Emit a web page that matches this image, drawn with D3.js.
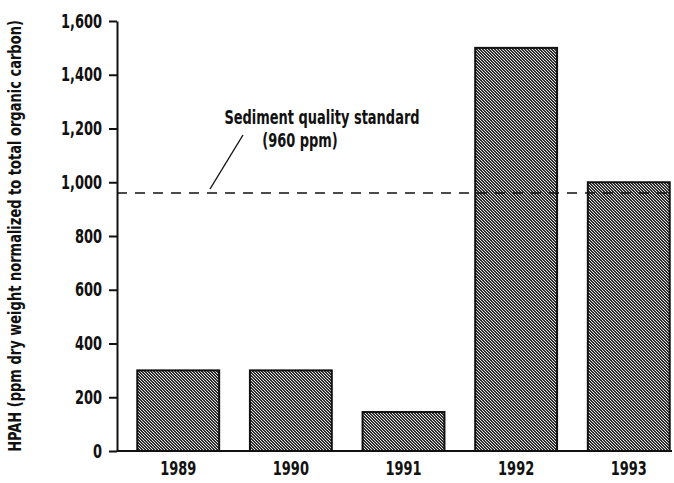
<!DOCTYPE html>
<html>
<head>
<meta charset="utf-8">
<script src="https://cdn.jsdelivr.net/npm/d3@7"></script>
<style>
  body { margin: 0; background: #fff; }
  svg text { font-family: "Liberation Sans Narrow", "DejaVu Sans Condensed", "Arial Narrow", sans-serif; font-weight: bold; fill: #111; }
</style>
</head>
<body>
<div id="chart"></div>
<script>
const years = ["1989", "1990", "1991", "1992", "1993"];
const hpah = [300, 300, 145, 1500, 1000];
const yTicks = [0, 200, 400, 600, 800, 1000, 1200, 1400, 1600];
const standard = 960;
const noteLines = ["Sediment quality standard", "(960 ppm)"];
const yTitle = "HPAH (ppm dry weight normalized to total organic carbon)";

const width = 674;
const height = 483;
const marginTop = 21;
const marginBottom = 32;
const marginLeft = 117;
const plotRight = 672;
const squeeze = 0.76; // fonts here are wider than the condensed face of the original

const svg = d3.select("#chart")
    .append("svg")
    .attr("width", width)
    .attr("height", height)
    .attr("viewBox", [0, 0, width, height]);

// speckled fill for the bars: dark tile with light diagonal pixels
const defs = svg.append("defs");
const pat = defs.append("pattern")
    .attr("id", "stip")
    .attr("patternUnits", "userSpaceOnUse")
    .attr("width", 3)
    .attr("height", 3);
pat.append("rect").attr("width", 3).attr("height", 3).attr("fill", "#2e2e2e");
[[0, 0], [1, 1], [2, 2]].forEach(([px, py]) => {
    pat.append("rect")
        .attr("x", px).attr("y", py)
        .attr("width", 1).attr("height", 1)
        .attr("fill", "#e6e6e6");
});

const x = d3.scaleBand(years, [marginLeft, 690])
    .paddingInner(0.273)
    .paddingOuter(0.18);

const y = d3.scaleLinear([0, 1600], [height - marginBottom, marginTop]);

// squeeze a text horizontally about its own anchor point
const narrow = (sel) => {
    sel.each(function () {
        const t = d3.select(this);
        const x0 = +t.attr("x") || 0;
        t.attr("x", x0 / squeeze).attr("transform", `scale(${squeeze},1)`);
    });
};

// bars
svg.append("g")
    .selectAll("rect")
    .data(years)
    .join("rect")
    .attr("x", d => x(d))
    .attr("y", (d, i) => y(hpah[i]))
    .attr("width", x.bandwidth())
    .attr("height", (d, i) => y(0) - y(hpah[i]))
    .attr("fill", "url(#stip)")
    .attr("stroke", "#111")
    .attr("stroke-width", 2);

// y axis
const yAxis = svg.append("g")
    .attr("transform", `translate(${marginLeft},0)`)
    .call(d3.axisLeft(y).tickValues(yTicks).tickFormat(d3.format(",")).tickSize(8).tickSizeOuter(0).tickPadding(7));
yAxis.select(".domain").attr("stroke", "#111").attr("stroke-width", 2);
yAxis.selectAll(".tick line").attr("stroke", "#111").attr("stroke-width", 2);
yAxis.selectAll(".tick text").style("font-size", "19px").call(narrow);

// baseline + x labels
svg.append("line")
    .attr("x1", marginLeft).attr("x2", plotRight)
    .attr("y1", y(0)).attr("y2", y(0))
    .attr("stroke", "#111").attr("stroke-width", 2);

const xAxis = svg.append("g")
    .attr("transform", `translate(0,${y(0)})`)
    .call(d3.axisBottom(x).tickSize(0).tickPadding(11));
xAxis.select(".domain").remove();
xAxis.selectAll(".tick text").style("font-size", "19px").call(narrow);

// standard line
svg.append("line")
    .attr("x1", marginLeft).attr("x2", plotRight)
    .attr("y1", y(standard)).attr("y2", y(standard))
    .attr("stroke", "#111")
    .attr("stroke-width", 1.6)
    .attr("stroke-dasharray", "10,8");

// annotation
svg.append("text")
    .attr("x", 322).attr("y", 124)
    .attr("text-anchor", "middle")
    .style("font-size", "19px")
    .text(noteLines[0])
    .call(narrow);
svg.append("text")
    .attr("x", 300).attr("y", 147)
    .attr("text-anchor", "middle")
    .style("font-size", "19px")
    .text(noteLines[1])
    .call(narrow);
svg.append("line")
    .attr("x1", 243).attr("y1", 135)
    .attr("x2", 210).attr("y2", y(standard) - 4)
    .attr("stroke", "#111").attr("stroke-width", 1.4);

// y title, squeezed to fit the axis height
const title = svg.append("text")
    .attr("text-anchor", "middle")
    .style("font-size", "17px")
    .text(yTitle);
const natural = title.node().getComputedTextLength();
const k = Math.min(1, 432 / natural);
title.attr("transform", `translate(21,${(y(0) + y(1600)) / 2}) rotate(-90) scale(${k},1)`);
</script>
</body>
</html>
